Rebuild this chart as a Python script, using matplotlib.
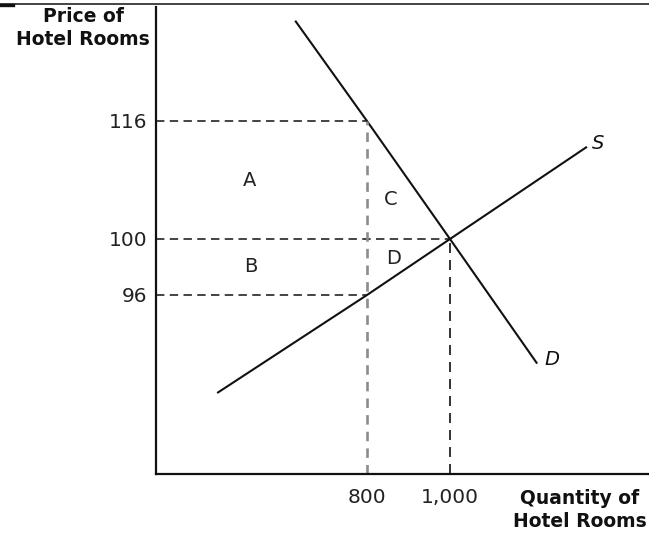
import numpy as np
import matplotlib
matplotlib.use("Agg")
import matplotlib.pyplot as plt
from matplotlib.lines import Line2D

# Labelled price levels and quantities
price_levels = [96, 100, 116]
price_labels = ["96", "100", "116"]
quantities = [800, 1000]
quantity_labels = ["800", "1,000"]

# Demand and supply curves (quantity, price)
demand_q = [627, 800, 1000, 1210]
demand_p = [129.6, 116, 100, 91.1]
supply_q = [439, 800, 1000, 1330]
supply_p = [89.0, 96, 100, 112.5]

# Tax wedge: buyers pay 116, sellers receive 96, quantity 800; equilibrium 1,000 at 100
q_tax, p_buyer, p_seller = 800, 116, 96
q_eq, p_eq = 1000, 100

# Schematic (not to scale) price axis: piecewise-linear spacing
_p_knots = np.array([0.0, 96.0, 100.0, 116.0, 300.0])
_h_knots = np.array([179 - 96 * 14.0, 179.0, 235.0, 353.0, 353 + 184 * 7.375])


def _fwd(p):
    return np.interp(p, _p_knots, _h_knots)


def _inv(h):
    return np.interp(h, _h_knots, _p_knots)


W, H = 649, 537
fig = plt.figure(figsize=(W / 100, H / 100), dpi=100)
ax = fig.add_axes([156 / W, 63 / H, 493 / W, 467 / H])
ax.set_yscale("function", functions=(_fwd, _inv))
ax.set_xlim(291.6, 1479.5)
ax.set_ylim(_inv(0.0), _inv(467.0))

for side in ("top", "right"):
    ax.spines[side].set_visible(False)
for side in ("left", "bottom"):
    ax.spines[side].set_linewidth(1.6)
    ax.spines[side].set_color("#111111")

xmin = ax.get_xlim()[0]
ymin = ax.get_ylim()[0]

# Curves
ax.plot(demand_q, demand_p, color="#111111", lw=1.5, solid_capstyle="butt")
ax.plot(supply_q, supply_p, color="#111111", lw=1.5, solid_capstyle="butt")

# Dashed guides
dash_kw = dict(color="#111111", lw=1.1, dashes=(5.5, 3.5))
ax.plot([xmin, q_tax], [p_buyer, p_buyer], **dash_kw)
ax.plot([xmin, q_eq], [p_eq, p_eq], **dash_kw)
ax.plot([xmin, q_tax], [p_seller, p_seller], **dash_kw)
ax.plot([q_eq, q_eq], [ymin, p_eq], color="#111111", lw=1.2, dashes=(6.0, 4.2))
ax.plot([q_tax, q_tax], [ymin, p_buyer], color="#8c8c8c", lw=1.9, dashes=(3.6, 2.7))

# Ticks
ax.set_yticks(price_levels)
ax.set_yticklabels(price_labels)
ax.set_xticks(quantities)
ax.set_xticklabels(quantity_labels)
ax.tick_params(axis="both", length=0, labelsize=14.5, colors="#222222")
ax.tick_params(axis="y", pad=6)
ax.tick_params(axis="x", pad=10)
ax.minorticks_off()

# Area labels
txt_kw = dict(fontsize=14, ha="center", va="center", color="#222222")
ax.text(518, 107.9, "A", **txt_kw)
ax.text(520, 98.0, "B", **txt_kw)
ax.text(858, 105.3, "C", **txt_kw)
ax.text(865, 98.6, "D", **txt_kw)

# Curve labels
ax.text(1357, 113.0, "S", fontsize=14, style="italic", ha="center", va="center", color="#111111")
ax.text(1246, 91.36, "D", fontsize=14, style="italic", ha="center", va="center", color="#111111")

# Axis titles
fig.text(83 / W, 1 - 28 / H, "Price of\nHotel Rooms", ha="center", va="center",
         fontsize=13.5, fontweight="bold", linespacing=1.3, color="#111111")
fig.text(580 / W, 1 - 510 / H, "Quantity of\nHotel Rooms", ha="center", va="center",
         fontsize=13.5, fontweight="bold", linespacing=1.3, color="#111111")

# Rule across the top
fig.add_artist(Line2D([0, 1], [1 - 3.5 / H, 1 - 3.5 / H], color="#111111", lw=1.1))
fig.add_artist(Line2D([0, 13 / W], [1 - 4.5 / H, 1 - 4.5 / H], color="#111111", lw=2.4))

fig.savefig("out.png", dpi=100)
